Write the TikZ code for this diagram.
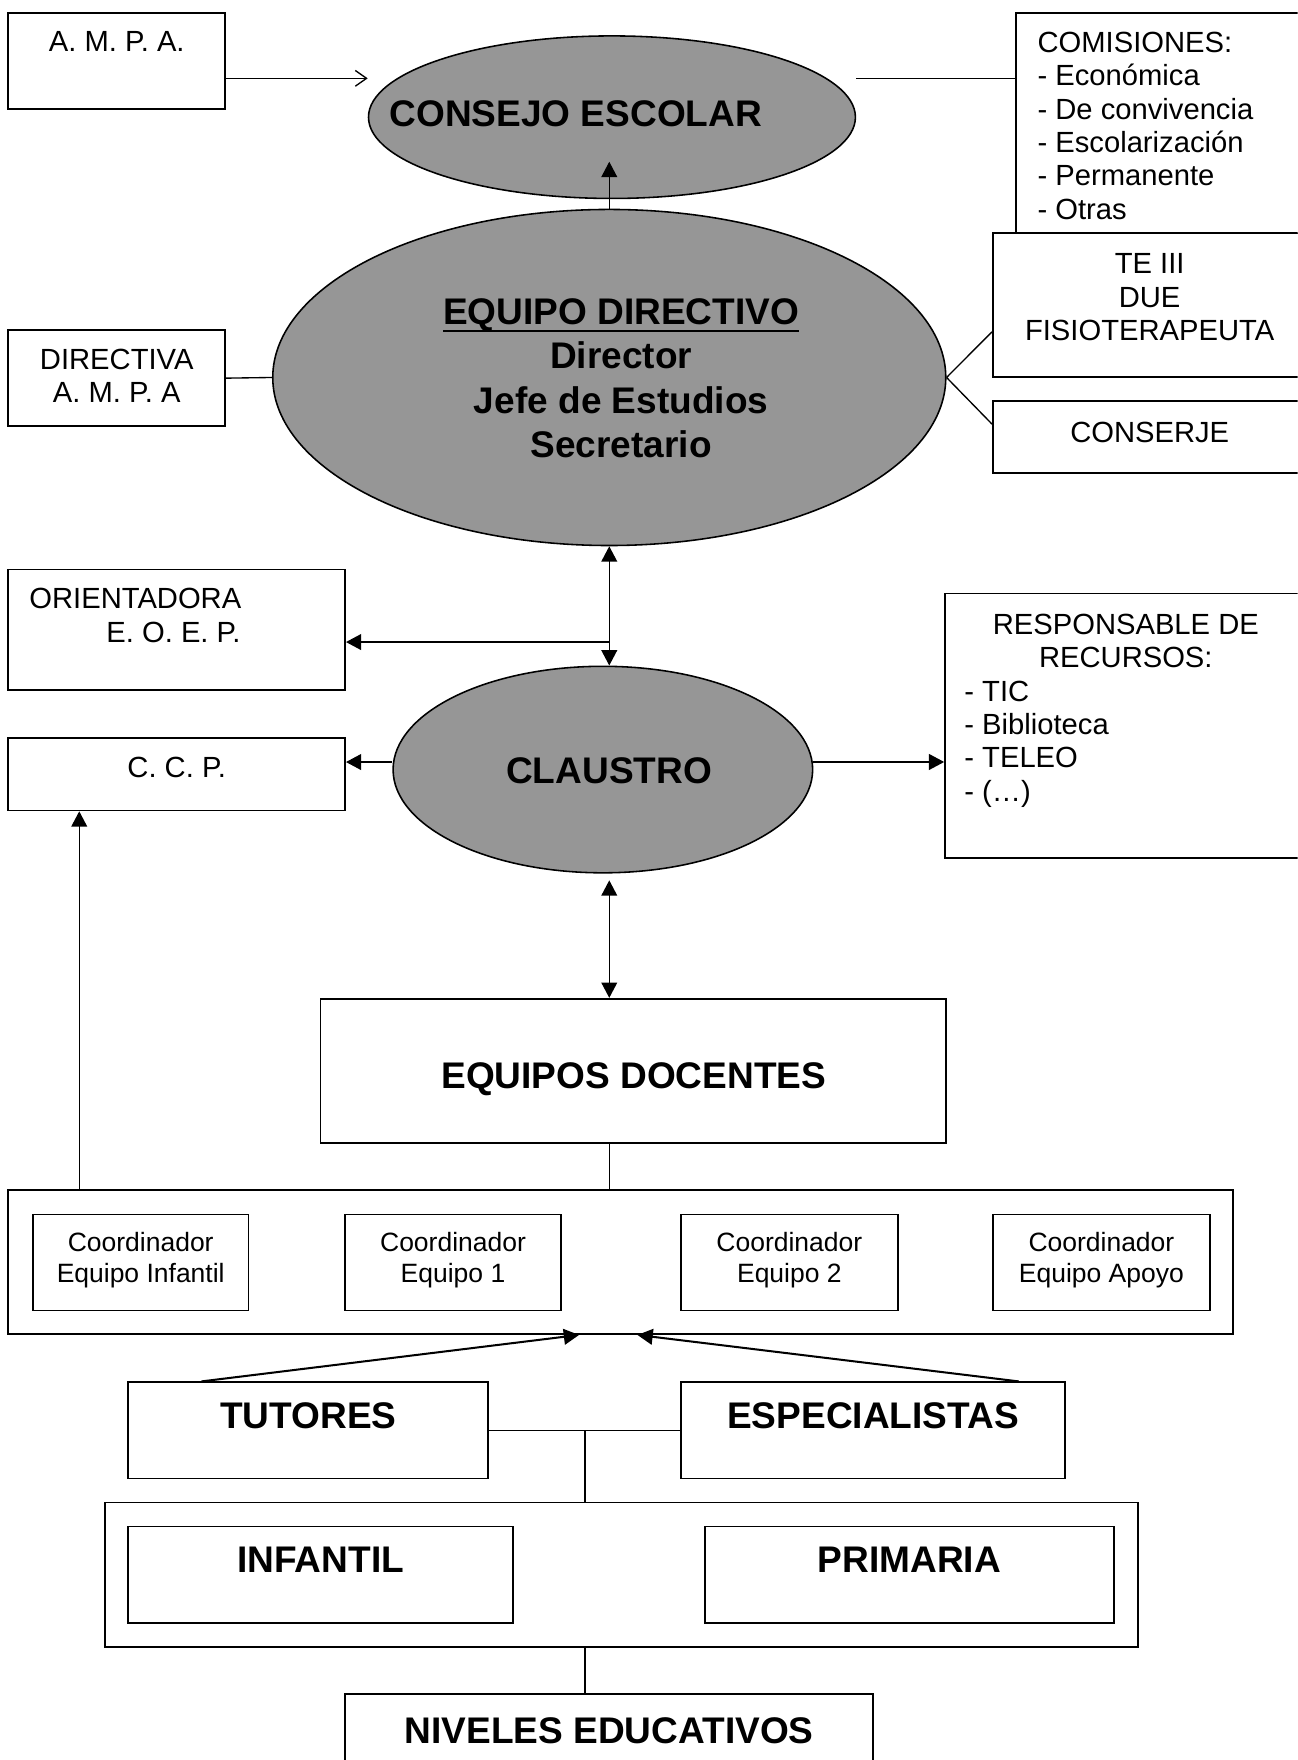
\documentclass[tikz,border=0pt]{standalone}
\usepackage{fontspec}
\setmainfont{Liberation Sans}
\usetikzlibrary{shapes.geometric, arrows.meta}
\definecolor{ovalgray}{gray}{0.59}
\newcommand{\txtnormal}{\fontsize{13}{14.85}\selectfont}
\newcommand{\txtsmall}{\fontsize{11.8}{13.8}\selectfont}
\newcommand{\txtbig}{\fontsize{16.5}{19.7}\selectfont\bfseries}
\newsavebox{\ulsave}
\newcommand{\thickul}[1]{\sbox{\ulsave}{#1}\rlap{\rule[-3.3pt]{\wd\ulsave}{1pt}}\usebox{\ulsave}}
\tikzset{
  >={Triangle[length=6.8pt,width=7pt]}, % filled heads on every arrow
  box/.style={draw, line width=0.8pt, inner sep=0pt}, % plain rectangles
  oval/.style={ellipse, draw, line width=0.7pt, fill=ovalgray, inner sep=0pt}, % grey bodies
  txt/.style={inner sep=0pt, anchor=north, align=center, font=\txtnormal}, % texts hang from their cap line
  link/.style={line width=0.6pt},
  heavy/.style={line width=0.9pt},
  openarrow/.style={-{Straight Barb[length=5pt,width=7pt]}}, % the A.M.P.A. arrow
}

\begin{document}
\begin{tikzpicture}[x=0.5pt, y=-0.5pt]
  \useasboundingbox (0,0) rectangle (1156,1568);
  \clip (0,0) rectangle (1156,1568);

  % top: consejo and equipo directivo
  \node[oval, minimum width=216.9pt, minimum height=72.4pt] (ce) at (545.2,104.4) {};
  \node[oval, minimum width=299.8pt, minimum height=149.7pt] (ed) at (542.8,336.3) {};
  \node[oval, minimum width=186.9pt, minimum height=92pt] (cl) at (537.1,685.6) {};

  \node[box, minimum width=96.55pt, minimum height=43.05pt] (ampa) at (104,54.4) {};
  \node[box, minimum width=133.35pt, minimum height=98.35pt] (com) at (1038.65,109.65) {};
  \node[box, minimum width=96.55pt, minimum height=42.85pt] (dir) at (104,336.9) {};
  \node[box, minimum width=143.7pt, minimum height=63.9pt] (te) at (1028.3,271.8) {};
  \node[box, minimum width=143.7pt, minimum height=31.95pt] (cons) at (1028.3,389.35) {};

  % middle: claustro and its boxes
  \node[box, minimum width=150pt, minimum height=53.8pt] (ori) at (157.4,561.2) {};
  \node[box, minimum width=150pt, minimum height=32.4pt] (ccp) at (157.4,689.6) {};
  \node[box, minimum width=165pt, minimum height=117.85pt] (resp) at (1007,646.65) {};
  \node[box, minimum width=278.6pt, minimum height=64.2pt] (doc) at (564.2,954) {};

  % coordinators
  \node[box, minimum width=545.5pt, minimum height=64.25pt] (crd) at (552.9,1124.25) {};
  \node[box, minimum width=95.95pt, minimum height=42.8pt] (c-inf) at (125.35,1124.8) {};
  \node[box, minimum width=96.2pt, minimum height=42.8pt] (c-one) at (403.6,1124.8) {};
  \node[box, minimum width=96.55pt, minimum height=42.8pt] (c-two) at (703.25,1124.8) {};
  \node[box, minimum width=96.55pt, minimum height=42.8pt] (c-apo) at (981.25,1124.8) {};

  % bottom
  \node[box, minimum width=160.35pt, minimum height=42.85pt] (tut) at (274.65,1274.35) {};
  \node[box, minimum width=171.05pt, minimum height=42.85pt] (esp) at (777.75,1274.35) {};
  \node[box, minimum width=460pt, minimum height=64.25pt] (lvl) at (553.6,1402.85) {};
  \node[box, minimum width=171.35pt, minimum height=42.9pt] (inf) at (285.65,1402.9) {};
  \node[box, minimum width=182.1pt, minimum height=42.9pt] (pri) at (810.2,1402.9) {};
  \node[box, minimum width=235.15pt, minimum height=45.5pt] (niv) at (542.65,1554.5) {};
  \coordinate (junc) at (521.2,1274.4);
  \coordinate (cetip) at (542.8,144.1);

  % connectors
  \draw[link, openarrow] ([yshift=-7.7pt]ampa.east) -- ([yshift=-7.7pt]ampa.east -| ce.west);
  \draw[link] ([yshift=-7.7pt]ampa.east -| ce.east) -- ([yshift=-7.7pt]ampa.east -| com.west);
  \draw[link, ->] (ed.north) -- (cetip);
  \draw[link] (dir.east) -- (ed.west);
  \draw[link] (ed.east) -- ([yshift=-11.9pt]te.west);
  \draw[link] (ed.east) -- ([yshift=5.75pt]cons.west);
  \draw[link, <->] (ed.south) -- (cl.north -| ed.south);
  \draw[heavy, ->] ([yshift=-5.4pt]ori.east -| ed.south) -- ([yshift=-5.4pt]ori.east);
  \draw[heavy, ->] ([yshift=5.35pt]ccp.east -| cl.west) -- ([yshift=5.35pt]ccp.east);
  \draw[heavy, ->] ([yshift=-16.1pt]resp.west -| cl.east) -- ([yshift=-16.1pt]resp.west);
  \draw[link, <->] ([yshift=-3pt]cl.south -| ed.south) -- (doc.north -| ed.south);
  \draw[link] (doc.south -| ed.south) -- (crd.north -| ed.south);
  \draw[link, ->] ([xshift=32pt]crd.north west) -- ([xshift=32pt]crd.north west |- ccp.south);
  \draw[heavy, ->] ([xshift=33pt]tut.north west) -- ([xshift=-18.5pt]crd.south);
  \draw[heavy, ->] ([xshift=-21pt]esp.north east) -- ([xshift=7.5pt]crd.south);
  \draw[link] (tut.east) -- (esp.west);
  \draw[link] (junc) -- (junc |- lvl.north);
  \draw[link] (lvl.south -| junc) -- (niv.north -| junc);

  % texts
  \node[txt, font=\txtbig] (t-ce) at (513,89.1) {CONSEJO ESCOLAR};
  \node[txt, font=\txtbig] (t-ed) at (553.4,265.9) {\thickul{EQUIPO DIRECTIVO}\\Director\\Jefe de Estudios\\Secretario};
  \node[txt, font=\txtbig] (t-cl) at (542.6,674.4) {CLAUSTRO};
  \node[txt] (t-ampa) at (104,27.3) {A. M. P. A.};
  \node[txt, anchor=north west, align=left] (t-com) at (924,28.2)
    {COMISIONES:\\- Económica\\- De convivencia\\- Escolarización\\- Permanente\\- Otras};
  \node[txt] (t-dir) at (104,310.4) {DIRECTIVA\\A. M. P. A};
  \node[txt] (t-te) at (1024.2,225.8) {TE III\\DUE\\FISIOTERAPEUTA};
  \node[txt] (t-cons) at (1024.3,375.8) {CONSERJE};
  \node[txt, anchor=north west, align=left] (t-ori) at (25.8,523.8) {ORIENTADORA\\\hspace*{34.3pt}E. O. E. P.};
  \node[txt] (t-ccp) at (157.4,674.4) {C. C. P.};
  \node[txt, anchor=north west, align=left] (t-resp) at (858.8,546.7)
    {\makebox[143.8pt]{RESPONSABLE DE}\\\makebox[143.8pt]{RECURSOS:}\\- TIC\\- Biblioteca\\- TELEO\\- (…)};
  \node[txt, font=\txtbig] (t-doc) at (564.6,946.3) {EQUIPOS DOCENTES};
  \node[txt, font=\txtsmall] (t-c-inf) at (125.35,1097.8) {Coordinador\\Equipo Infantil};
  \node[txt, font=\txtsmall] (t-c-one) at (403.6,1097.8) {Coordinador\\Equipo 1};
  \node[txt, font=\txtsmall] (t-c-two) at (703.25,1097.8) {Coordinador\\Equipo 2};
  \node[txt, font=\txtsmall] (t-c-apo) at (981.25,1097.8) {Coordinador\\Equipo Apoyo};
  \node[txt, font=\txtbig] (t-tut) at (274.65,1249.6) {TUTORES};
  \node[txt, font=\txtbig] (t-esp) at (777.75,1249.6) {ESPECIALISTAS};
  \node[txt, font=\txtbig] (t-inf) at (285.65,1378.2) {INFANTIL};
  \node[txt, font=\txtbig] (t-pri) at (810.2,1378.2) {PRIMARIA};
  \node[txt, font=\txtbig] (t-niv) at (542.65,1529.8) {NIVELES EDUCATIVOS};
\end{tikzpicture}
\end{document}
